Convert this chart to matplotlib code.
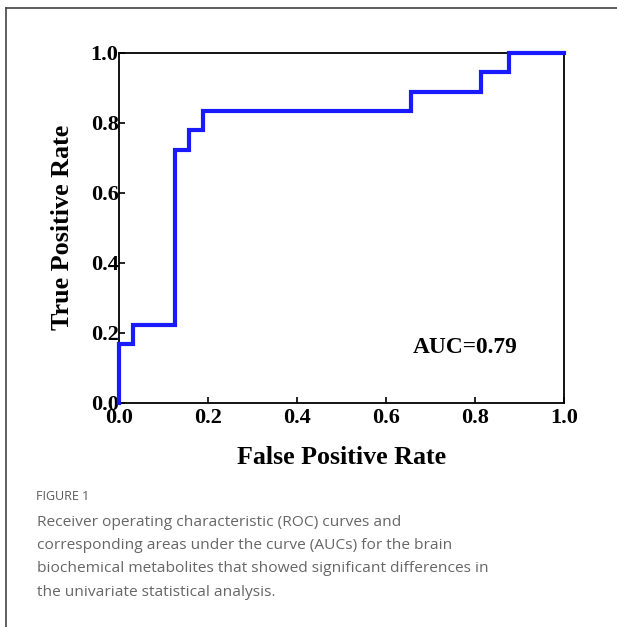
import matplotlib
matplotlib.use("Agg")
import matplotlib.pyplot as plt
from matplotlib.lines import Line2D

# ROC step data (18 positives, 32 negatives)
fpr = [0.0, 0.0, 1/32, 1/32, 4/32, 4/32, 5/32, 5/32, 6/32, 6/32, 21/32, 21/32, 26/32, 26/32, 28/32, 28/32, 1.0]
tpr = [0.0, 3/18, 3/18, 4/18, 4/18, 13/18, 13/18, 14/18, 14/18, 15/18, 15/18, 16/18, 16/18, 17/18, 17/18, 1.0, 1.0]
ticks = [0.0, 0.2, 0.4, 0.6, 0.8, 1.0]
tick_labels = ["0.0", "0.2", "0.4", "0.6", "0.8", "1.0"]
auc_text = "AUC=0.79"
caption_head = "FIGURE 1"
caption_lines = [
    "Receiver operating characteristic (ROC) curves and",
    "corresponding areas under the curve (AUCs) for the brain",
    "biochemical metabolites that showed significant differences in",
    "the univariate statistical analysis.",
]

W, H = 617, 627
fig = plt.figure(figsize=(W/100, H/100), dpi=100)

# page frame (top and left border)
fig.add_artist(Line2D([6/W, 1.0], [1 - 8/H, 1 - 8/H], color="#444444", lw=1.2, transform=fig.transFigure))
fig.add_artist(Line2D([6/W, 6/W], [0.0, 1 - 8/H], color="#444444", lw=1.2, transform=fig.transFigure))

ax = fig.add_axes([119.3/W, 224.3/H, 445/W, 350/H])
ax.plot(fpr, tpr, color="#1a1aff", lw=3, solid_joinstyle="miter", clip_on=False, zorder=3)
ax.set_xlim(0, 1)
ax.set_ylim(0, 1)

serif = ["Liberation Serif", "DejaVu Serif"]
ax.set_xticks(ticks)
ax.set_yticks(ticks)
ax.set_xticklabels(tick_labels, family=serif, fontweight="bold", fontsize=16)
ax.set_yticklabels(tick_labels, family=serif, fontweight="bold", fontsize=16)
ax.tick_params(direction="in", length=4, width=1.2, color="black")
ax.tick_params(axis="x", pad=3.5)
ax.tick_params(axis="y", pad=0.5)
for s in ax.spines.values():
    s.set_linewidth(1.3)
    s.set_color("black")

ax.set_xlabel("False Positive Rate", family=serif, fontweight="bold", fontsize=18.7, labelpad=13)
ax.set_ylabel("True Positive Rate", family=serif, fontweight="bold", fontsize=18.8, labelpad=12)

ax.text(0.778, 0.159, auc_text, transform=ax.transAxes, family=serif, fontweight="bold",
        fontsize=16.8, ha="center", va="center")

# caption
fig.text(36/W, 1 - 497/H, caption_head, family="Open Sans", fontsize=9, color="#5a5a5a",
         va="center", ha="left")
for i, line in enumerate(caption_lines):
    fig.text(37/W, 1 - (522 + i*23.4)/H, line, family="Open Sans", fontsize=11.15,
             color="#666666", va="center", ha="left")

fig.savefig("out.png", dpi=100)
